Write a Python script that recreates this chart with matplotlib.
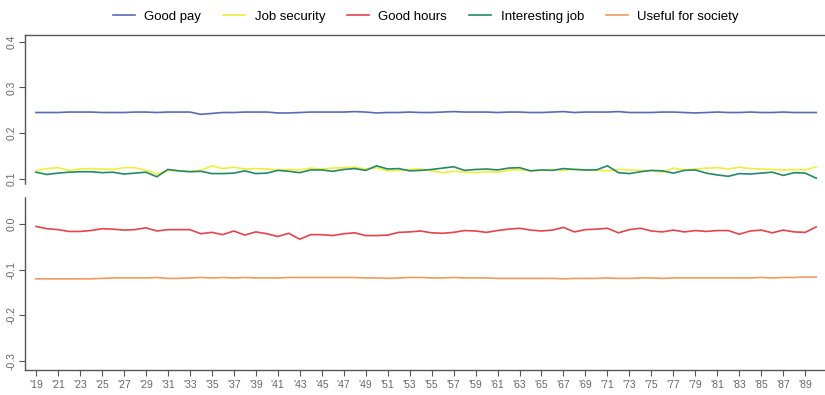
import numpy as np
import matplotlib
matplotlib.use("Agg")
import matplotlib.pyplot as plt

plt.rcParams["font.family"] = ["Liberation Sans", "DejaVu Sans"]

years = np.arange(1919, 1991)

good_pay = [0.245, 0.245, 0.245, 0.246, 0.246, 0.246, 0.245, 0.245, 0.245, 0.246, 0.246, 0.245,
            0.246, 0.246, 0.246, 0.241, 0.243, 0.245, 0.245, 0.246, 0.246, 0.246, 0.244, 0.244,
            0.245, 0.246, 0.246, 0.246, 0.246, 0.247, 0.246, 0.244, 0.245, 0.245, 0.246, 0.245,
            0.245, 0.246, 0.247, 0.246, 0.246, 0.246, 0.245, 0.246, 0.246, 0.245, 0.245, 0.246,
            0.247, 0.245, 0.246, 0.246, 0.246, 0.247, 0.245, 0.245, 0.245, 0.246, 0.246, 0.245,
            0.244, 0.245, 0.246, 0.245, 0.245, 0.246, 0.245, 0.245, 0.246, 0.245, 0.245, 0.245]

job_security = [0.117, 0.122, 0.124, 0.118, 0.121, 0.122, 0.121, 0.120, 0.124, 0.124, 0.118, 0.110,
                0.118, 0.117, 0.116, 0.118, 0.128, 0.122, 0.125, 0.121, 0.122, 0.121, 0.119, 0.120,
                0.119, 0.123, 0.121, 0.123, 0.124, 0.125, 0.121, 0.124, 0.117, 0.118, 0.120, 0.121,
                0.117, 0.113, 0.116, 0.114, 0.113, 0.115, 0.114, 0.118, 0.120, 0.117, 0.118, 0.120,
                0.118, 0.121, 0.119, 0.118, 0.117, 0.120, 0.119, 0.118, 0.117, 0.114, 0.123, 0.119,
                0.121, 0.123, 0.124, 0.121, 0.125, 0.122, 0.121, 0.120, 0.119, 0.120, 0.119, 0.126]

good_hours = [-0.005, -0.010, -0.012, -0.016, -0.016, -0.014, -0.010, -0.011, -0.013, -0.012, -0.008, -0.015,
              -0.012, -0.012, -0.012, -0.021, -0.018, -0.023, -0.015, -0.024, -0.017, -0.021, -0.027, -0.020,
              -0.033, -0.023, -0.023, -0.025, -0.021, -0.019, -0.025, -0.025, -0.024, -0.018, -0.017, -0.015,
              -0.019, -0.020, -0.018, -0.014, -0.015, -0.018, -0.014, -0.011, -0.009, -0.013, -0.015, -0.013,
              -0.007, -0.017, -0.012, -0.011, -0.009, -0.019, -0.012, -0.009, -0.015, -0.017, -0.013, -0.017,
              -0.014, -0.016, -0.014, -0.014, -0.022, -0.015, -0.013, -0.019, -0.013, -0.017, -0.018, -0.006]

interesting_job = [0.114, 0.109, 0.112, 0.114, 0.115, 0.115, 0.113, 0.114, 0.110, 0.112, 0.114, 0.104,
                   0.120, 0.117, 0.115, 0.116, 0.111, 0.111, 0.112, 0.117, 0.111, 0.112, 0.118, 0.116,
                   0.113, 0.119, 0.119, 0.116, 0.120, 0.122, 0.118, 0.128, 0.121, 0.122, 0.117, 0.118,
                   0.120, 0.123, 0.126, 0.118, 0.120, 0.121, 0.119, 0.123, 0.124, 0.117, 0.119, 0.118,
                   0.122, 0.120, 0.119, 0.119, 0.128, 0.113, 0.111, 0.115, 0.118, 0.117, 0.112, 0.118,
                   0.119, 0.112, 0.108, 0.105, 0.111, 0.110, 0.112, 0.114, 0.107, 0.113, 0.112, 0.101]

useful_for_society = [-0.120, -0.120, -0.120, -0.120, -0.120, -0.120, -0.119, -0.118, -0.118, -0.118, -0.118, -0.117,
                      -0.119, -0.119, -0.118, -0.117, -0.118, -0.117, -0.118, -0.117, -0.118, -0.118, -0.118, -0.117,
                      -0.117, -0.117, -0.117, -0.117, -0.117, -0.117, -0.118, -0.118, -0.119, -0.118, -0.117, -0.117,
                      -0.118, -0.118, -0.117, -0.118, -0.118, -0.118, -0.119, -0.119, -0.119, -0.119, -0.119, -0.119,
                      -0.120, -0.119, -0.119, -0.119, -0.118, -0.119, -0.119, -0.118, -0.118, -0.119, -0.118, -0.118,
                      -0.118, -0.118, -0.118, -0.118, -0.118, -0.118, -0.117, -0.118, -0.117, -0.117, -0.116, -0.116]

labels = ["Good pay", "Job security", "Good hours", "Interesting job", "Useful for society"]
colors = ["#5a6bb5", "#f0ee3a", "#e4444c", "#24896a", "#f29a5c"]
series = [good_pay, job_security, good_hours, interesting_job, useful_for_society]

fig = plt.figure(figsize=(8.25, 3.95), dpi=100)
ax = fig.add_axes([0.0303, 0.0633, 0.9697, 0.8480])

for vals, lab, col in zip(series, labels, colors):
    ax.plot(years, vals, color=col, lw=1.2, label=lab)

ax.set_xlim(1918, 1990.8)
ax.set_ylim(-0.32, 0.415)

xt = np.arange(1919, 1990, 2)
ax.set_xticks(xt)
ax.set_xticklabels(["'%02d" % (y % 100) for y in xt])
ax.set_yticks([0.4, 0.3, 0.2, 0.1, 0.0, -0.1, -0.2, -0.3])
ax.set_yticklabels(["0.4", "0.3", "0.2", "0.1", "0.0", "-0.1", "-0.2", "-0.3"],
                   rotation=90, va="center")

ax.tick_params(axis="both", colors="#555555", labelsize=7.5, length=4, width=0.8,
               labelcolor="#666666")
ax.tick_params(axis="y", pad=2)

for side in ["left", "top", "bottom"]:
    ax.spines[side].set_color("#555555")
    ax.spines[side].set_linewidth(1.0)
ax.spines["right"].set_visible(False)

# small break in the left axis line
ax.plot([1918, 1918], [0.063, 0.083], color="white", lw=2.5, clip_on=False, zorder=5)

fig.legend(loc="upper center", bbox_to_anchor=(0.516, 1.004), ncol=5, frameon=False,
           fontsize=9.5, handlelength=1.7, handletextpad=0.7, columnspacing=1.65)

fig.savefig("out.png", dpi=100)
